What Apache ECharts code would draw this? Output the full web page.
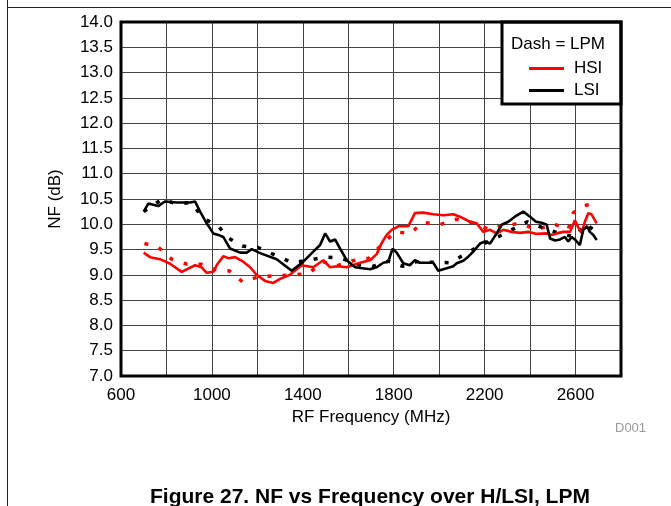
<!DOCTYPE html>
<html>
<head>
<meta charset="utf-8">
<script src="https://cdn.jsdelivr.net/npm/echarts@6/dist/echarts.min.js"></script>
<style>
html,body{margin:0;padding:0;background:#fff;}
#chart{width:671px;height:506px;}
</style>
</head>
<body>
<div id="chart"></div>
<script>
// ---- data (frequency MHz, NF dB) ----
var hsiFreq = [700,728,772,816,867,926,955,977,1006,1021,1050,1072,1102,1138,1168,1197,1234,1270,1300,1343,1395,1446,1490,1520,1549,1593,1652,1696,1725,1747,1769,1791,1820,1864,1893,1930,1974,2018,2062,2091,2135,2165,2194,2224,2253,2282,2319,2355,2392,2429,2473,2495,2517,2546,2576,2597,2612,2626,2641,2656,2670,2693];
var hsiNF   = [9.44,9.35,9.31,9.22,9.06,9.19,9.15,9.04,9.06,9.19,9.37,9.33,9.35,9.26,9.15,9.00,8.88,8.84,8.92,9.00,9.19,9.15,9.29,9.15,9.17,9.15,9.24,9.29,9.41,9.63,9.79,9.89,9.96,9.96,10.22,10.23,10.20,10.18,10.20,10.15,10.05,10.02,9.85,9.89,9.82,9.89,9.85,9.83,9.85,9.81,9.82,9.79,9.82,9.85,9.85,10.08,9.94,9.83,10.05,10.22,10.20,10.02];

var lsiFreq = [700,720,764,793,845,904,926,948,977,1006,1028,1050,1080,1124,1153,1175,1212,1285,1351,1402,1446,1476,1498,1520,1542,1564,1593,1630,1696,1725,1754,1776,1795,1813,1842,1871,1893,1915,1974,1996,2033,2062,2077,2106,2128,2150,2180,2202,2224,2253,2275,2304,2333,2370,2400,2426,2451,2473,2488,2510,2532,2553,2568,2583,2597,2619,2634,2651,2663,2678,2693];
var lsiNF   = [10.25,10.41,10.36,10.45,10.43,10.43,10.45,10.25,10.02,9.82,9.79,9.75,9.52,9.44,9.44,9.51,9.43,9.31,9.08,9.26,9.46,9.59,9.82,9.66,9.70,9.52,9.29,9.15,9.11,9.15,9.24,9.26,9.52,9.44,9.23,9.19,9.29,9.24,9.24,9.08,9.13,9.17,9.23,9.28,9.36,9.46,9.62,9.66,9.62,9.82,9.99,10.05,10.15,10.25,10.15,10.05,10.03,9.99,9.72,9.68,9.70,9.75,9.66,9.75,9.70,9.59,9.89,9.96,9.85,9.79,9.69];

var hsiLpmFreq = [703,760,823,892,955,1006,1076,1135,1204,1273,1351,1424,1490,1542,1619,1692,1747,1806,1874,1927,2000,2077,2148,2220,2294,2363,2429,2502,2568,2590,2634,2680];
var hsiLpmNF   = [9.62,9.56,9.31,9.21,9.21,9.11,9.08,8.86,8.96,8.98,9.00,9.02,9.26,9.17,9.28,9.33,9.60,9.85,9.82,10.04,9.99,10.10,10.03,9.90,9.99,10.01,9.89,10.01,9.90,10.23,10.35,10.43];

var lsiLpmFreq = [700,779,849,905,970,1028,1065,1134,1204,1278,1355,1424,1498,1571,1640,1710,1776,1839,1900,1970,2047,2106,2183,2246,2319,2388,2463,2540,2600,2641,2693];
var lsiLpmNF   = [10.25,10.49,10.40,10.43,10.10,9.97,9.75,9.57,9.54,9.39,9.24,9.29,9.35,9.33,9.20,9.17,9.27,9.17,9.26,9.25,9.24,9.39,9.59,9.72,9.89,10.05,9.92,9.80,9.75,10.01,9.85];

var seriesNames = ['HSI','LSI','HSI LPM','LSI LPM'];
var legendTitle = 'Dash = LPM';
var xName = 'RF Frequency (MHz)';
var yName = 'NF (dB)';
var figTitle = 'Figure 27. NF vs Frequency over H/LSI, LPM';
var figId = 'D001';

function pairs(xs, ys){ return xs.map(function(x,i){ return [x, ys[i]]; }); }

var G = {left:121, top:22, width:500, height:354};
var FONT = '"Liberation Sans", Arial, sans-serif';

var chart = echarts.init(document.getElementById('chart'), null, {renderer:'canvas'});
chart.setOption({
  animation:false,
  backgroundColor:'#fff',
  grid:{left:G.left, top:G.top, width:G.width, height:G.height, show:false},
  xAxis:{
    type:'value', min:600, max:2800, interval:200,
    name:xName, nameLocation:'middle', nameGap:31,
    nameTextStyle:{fontFamily:FONT, fontSize:17, color:'#000'},
    axisLine:{show:false}, axisTick:{show:false},
    axisLabel:{fontFamily:FONT, fontSize:17, color:'#000', margin:11,
      formatter:function(v){ return ((v-600)%400===0 && v<2800) ? String(v) : ''; }},
    splitLine:{show:true, lineStyle:{color:'#444', width:1}}
  },
  yAxis:{
    type:'value', min:7, max:14, interval:0.5,
    name:yName, nameLocation:'middle', nameGap:57, nameRotate:90,
    nameTextStyle:{fontFamily:FONT, fontSize:17, color:'#000'},
    axisLine:{show:false}, axisTick:{show:false},
    axisLabel:{fontFamily:FONT, fontSize:17, color:'#000', margin:8,
      formatter:function(v){ return v.toFixed(1); }},
    splitLine:{show:true, lineStyle:{color:'#444', width:1}}
  },
  legend:{
    data:['HSI','LSI'], orient:'vertical', left:524, top:55,
    itemWidth:35, itemHeight:3, itemGap:5, icon:'rect',
    textStyle:{fontFamily:FONT, fontSize:17, color:'#000', lineHeight:17, padding:[0,0,0,5]},
    selectedMode:false, z:20
  },
  series:[
    {name:seriesNames[0], type:'line', data:pairs(hsiFreq,hsiNF), symbol:'none', z:5,
      lineStyle:{color:'#ff0000', width:2.6}, itemStyle:{color:'#ff0000'}},
    {name:seriesNames[1], type:'line', data:pairs(lsiFreq,lsiNF), symbol:'none', z:5,
      lineStyle:{color:'#000000', width:2.6}, itemStyle:{color:'#000000'}},
    {name:seriesNames[2], type:'line', data:pairs(hsiLpmFreq,hsiLpmNF), symbol:'none', z:4,
      lineStyle:{color:'#ff0000', width:3.5, type:[4,11]}, itemStyle:{color:'#ff0000'}},
    {name:seriesNames[3], type:'line', data:pairs(lsiLpmFreq,lsiLpmNF), symbol:'none', z:4,
      lineStyle:{color:'#000000', width:3.5, type:[4,11]}, itemStyle:{color:'#000000'}}
  ],
  graphic:[
    {type:'line', shape:{x1:7.5,y1:0,x2:7.5,y2:506}, style:{stroke:'#222', lineWidth:1}, z:1},
    {type:'line', shape:{x1:7,y1:7.5,x2:671,y2:7.5}, style:{stroke:'#222', lineWidth:1}, z:1},
    {type:'rect', shape:{x:G.left, y:G.top, width:G.width, height:G.height},
      style:{fill:'none', stroke:'#000', lineWidth:3}, z:50},
    {type:'rect', shape:{x:502, y:G.top, width:G.left+G.width-502, height:82},
      style:{fill:'#fff', stroke:'#000', lineWidth:3}, z:15},
    {type:'text', left:511, top:36, z:20,
      style:{text:legendTitle, font:'17px '+FONT, fill:'#000'}},
    {type:'text', left:615, top:422, z:20,
      style:{text:figId, font:'13px '+FONT, fill:'#999'}},
    {type:'text', left:150, top:487, z:20,
      style:{text:figTitle, font:'bold 21px '+FONT, fill:'#000'}}
  ]
});
</script>
</body>
</html>
